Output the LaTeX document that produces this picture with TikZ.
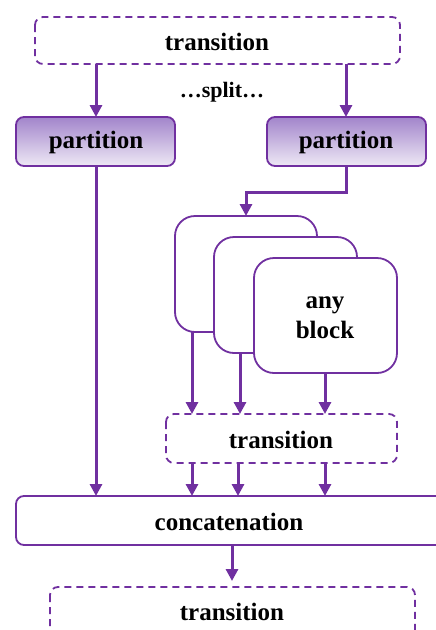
\documentclass[tikz,border=0pt]{standalone}
\usepackage{fontspec}
\setmainfont{Liberation Serif}
\usetikzlibrary{arrows.meta}
\definecolor{vio}{HTML}{7030A0}
\definecolor{viotop}{HTML}{A285CB}
\definecolor{viobot}{HTML}{EEE8F5}
\tikzset{
  every node/.style={font=\fontsize{25}{26}\selectfont\bfseries},
  box/.style={draw=vio, line width=1.8pt, rounded corners=8pt, fill=white},
  dbox/.style={box, dash pattern=on 7pt off 5pt},
  pbox/.style={box, top color=viotop, bottom color=viobot},
  blockbox/.style={box, rounded corners=20pt},
  flow/.style={draw=vio, line width=3pt, -{Triangle[length=12pt,width=12pt]}},
}
\begin{document}
\begin{tikzpicture}[x=1pt,y=-1pt]
\useasboundingbox (0,0) rectangle (436,630);
\clip (0,0) rectangle (436,630);

% top transition and split
\draw[dbox] (35,17) rectangle (400,64);
\node (t1) at (217,42) {transition};
\coordinate (t1a) at (96,64);
\coordinate (t1b) at (346,64);
\node[font=\fontsize{22}{24}\selectfont\bfseries] (split) at (222,92) {…split…};

% partitions
\draw[pbox] (16,117) rectangle (175,166);
\node (p1) at (96,142) {partition};
\draw[pbox] (267,117) rectangle (426,166);
\node (p2) at (346,142) {partition};
\coordinate (p1t) at (96,117);
\coordinate (p1b) at (96,166);
\coordinate (p2t) at (346,117);
\coordinate (p2b) at (346,166);
\draw[flow] (t1a) -- (p1t);
\draw[flow] (t1b) -- (p2t);

% stacked blocks
\draw[blockbox] (175,216) rectangle (317,332);
\draw[blockbox] (214,237) rectangle (357,353);
\draw[blockbox] (254,258) rectangle (397,373);
\node[align=center, font=\fontsize{25}{30}\selectfont\bfseries] (blk) at (325,318) {any\\block};
\coordinate (b1t) at (246,216);
\coordinate (b1b) at (192,332);
\coordinate (b2b) at (240,353);
\coordinate (b3b) at (325,373);
\draw[flow] (p2b) -- (346,192) -- (246,192) -- (b1t);

% middle transition
\draw[dbox] (166,414) rectangle (397,463);
\node (t2) at (281,440) {transition};
\draw[flow] (b1b) -- (192,414);
\draw[flow] (b2b) -- (240,414);
\draw[flow] (b3b) -- (325,414);

% concatenation
\draw[box] (16,496) rectangle (460,545);
\node (cat) at (229,522) {concatenation};
\draw[flow] (p1b) -- (96,496);
\draw[flow] (192,463) -- (192,496);
\draw[flow] (238,463) -- (238,496);
\draw[flow] (325,463) -- (325,496);

% bottom transition
\draw[dbox] (50,587) rectangle (415,650);
\node (t3) at (232,612) {transition};
\draw[flow] (232,545) -- (232,581);
\end{tikzpicture}
\end{document}
